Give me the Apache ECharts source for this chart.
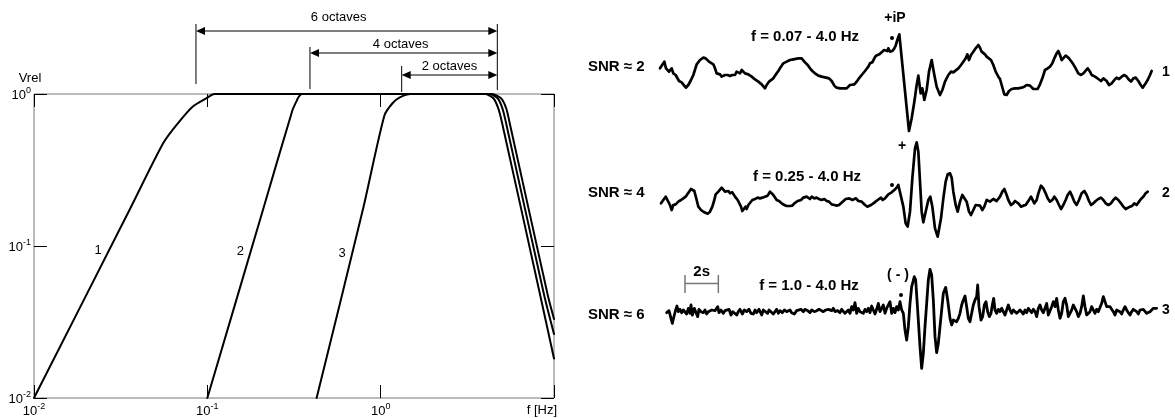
<!DOCTYPE html>
<html><head><meta charset="utf-8">
<script src="https://cdn.jsdelivr.net/npm/echarts@6.0.0/dist/echarts.min.js"></script>
<style>html,body{margin:0;padding:0;background:#fff}#c{width:1175px;height:418px}</style>
</head><body><div id="c"></div>
<script>
// ---------- DATA ----------
// Left panel: relative velocity response vs frequency (Hz), log-log
const curve1 = [[0.01,0.01],[0.0356,0.173],[0.0556,0.474],[0.0676,0.641],[0.0822,0.825],[0.0986,0.937],[0.110,1.0],[4.40,1.0],[4.95,0.937],[5.30,0.805],[5.53,0.657],[9.2,0.0476],[10,0.0331]];
const curve2 = [[0.1,0.01],[0.2095,0.173],[0.31,0.785],[0.326,0.89],[0.335,0.95],[0.35,1.0],[4.23,1.0],[4.73,0.937],[5.04,0.805],[5.27,0.657],[8.77,0.0476],[10,0.0264]];
const curve3 = [[0.427,0.01],[0.789,0.173],[1.05,0.72],[1.17,0.869],[1.29,0.95],[1.49,1.0],[4.0,1.0],[4.47,0.937],[4.77,0.805],[5.0,0.657],[8.32,0.0476],[10,0.0182]];
const curveLabels = ['1','2','3'];
const curveLabelPos = [[0.0234,0.094],[0.155,0.092],[0.60,0.0895]];
const octaveLabels = ['6 octaves','4 octaves','2 octaves'];
const octaveFrom = [0.086, 0.391, 1.322];
const octaveTo = 4.71;

// Right panel: seismograms, time (s) and amplitude (relative units)
const trace1 = [[0.30,2.0],[0.40,2.5],[0.56,4.0],[0.66,2.0],[0.76,2.5],[0.84,1.0],[1.00,2.0],[1.10,0.5],[1.24,0.0],[1.36,-0.5],[1.44,-1.8],[1.60,-2.2],[1.72,-3.0],[1.86,-3.8],[2.00,-3.0],[2.16,-1.5],[2.30,0.0],[2.40,0.5],[2.50,3.2],[2.70,4.5],[2.90,5.2],[3.04,5.0],[3.16,4.7],[3.24,4.0],[3.36,3.8],[3.50,3.2],[3.60,2.0],[3.70,0.5],[3.80,0.0],[3.90,0.2],[4.00,-0.5],[4.20,0.0],[4.36,0.0],[4.50,-0.3],[4.64,0.0],[4.80,0.0],[4.90,1.0],[5.00,1.5],[5.10,0.5],[5.20,1.5],[5.30,1.2],[5.40,0.5],[5.60,0.2],[5.80,-0.5],[6.00,-1.3],[6.20,-2.0],[6.40,-2.8],[6.60,-4.0],[6.70,-3.0],[6.84,-2.0],[6.96,-1.5],[7.10,-1.0],[7.20,-0.5],[7.30,0.5],[7.40,1.2],[7.56,2.5],[7.70,3.5],[7.90,4.0],[8.10,4.5],[8.30,4.7],[8.40,5.0],[8.60,5.0],[8.80,5.0],[8.90,4.5],[9.00,3.8],[9.16,3.0],[9.30,2.0],[9.44,1.2],[9.60,0.5],[9.80,-0.2],[10.00,-0.5],[10.20,-0.7],[10.30,-0.5],[10.44,-1.0],[10.60,-1.8],[10.76,-3.2],[10.90,-3.8],[11.10,-4.0],[11.30,-4.0],[11.50,-4.0],[11.60,-4.2],[11.70,-3.0],[11.80,-3.5],[11.96,-2.8],[12.10,-2.0],[12.24,-1.0],[12.40,0.0],[12.60,1.2],[12.80,2.5],[12.90,3.5],[13.04,3.8],[13.16,5.0],[13.26,5.8],[13.36,5.5],[13.46,6.2],[13.60,6.8],[13.74,7.5],[13.84,7.8],[13.94,7.2],[14.00,8.0],[14.10,7.0],[14.24,7.2],[14.36,8.0],[14.44,8.8],[14.54,10.5],[14.66,12.2],[14.76,12.8],[15.24,-16.8],[15.40,-13.0],[15.56,-8.0],[15.70,-3.0],[15.80,-0.2],[15.94,-5.5],[16.04,-4.0],[16.16,-7.5],[16.30,-4.5],[16.44,1.0],[16.60,4.5],[16.76,0.0],[16.90,-3.5],[17.10,-6.0],[17.24,-4.5],[17.40,-2.0],[17.60,0.0],[17.76,1.0],[17.90,0.8],[18.00,0.2],[18.20,2.0],[18.36,3.0],[18.50,4.0],[18.64,5.0],[18.74,6.2],[18.84,4.5],[18.96,6.0],[19.10,7.0],[19.24,8.0],[19.40,9.0],[19.50,8.2],[19.60,7.0],[19.70,7.5],[19.80,6.2],[19.90,5.5],[20.00,5.8],[20.16,4.5],[20.30,3.0],[20.44,1.0],[20.60,-0.5],[20.70,-1.2],[20.80,-3.0],[20.96,-5.8],[21.10,-6.0],[21.24,-4.8],[21.40,-4.2],[21.60,-4.0],[21.80,-4.0],[22.00,-3.8],[22.16,-3.5],[22.30,-3.0],[22.40,-2.5],[22.50,-3.2],[22.60,-3.5],[22.70,-4.2],[22.80,-4.6],[22.96,-4.2],[23.10,-2.8],[23.24,-1.0],[23.40,1.5],[23.56,2.0],[23.70,2.5],[23.84,3.5],[23.96,5.0],[24.10,6.5],[24.20,7.2],[24.30,6.0],[24.40,4.5],[24.50,5.0],[24.64,5.8],[24.80,5.2],[24.96,4.2],[25.10,3.2],[25.24,2.0],[25.40,0.5],[25.56,0.0],[25.70,0.5],[25.80,1.0],[25.96,2.0],[26.10,1.0],[26.20,0.0],[26.40,-0.5],[26.60,-1.2],[26.76,-1.8],[26.90,-1.0],[27.10,-1.8],[27.24,-3.0],[27.40,-2.5],[27.56,-1.5],[27.70,-0.8],[27.84,-1.2],[28.00,-0.5],[28.16,0.0],[28.30,-0.5],[28.40,-1.2],[28.56,-2.0],[28.70,-1.0],[28.84,-0.8],[29.00,-1.8],[29.14,-3.0],[29.26,-3.8],[29.40,-2.8],[29.56,-1.5],[29.70,0.0],[29.80,1.2]];
const trace2 = [[0.36,-0.5],[0.50,0.5],[0.64,1.5],[0.76,1.0],[0.90,-1.0],[1.00,-2.5],[1.10,-1.0],[1.24,-0.8],[1.40,0.0],[1.56,0.5],[1.70,1.0],[1.84,1.5],[1.94,2.2],[2.04,2.8],[2.16,3.8],[2.24,4.2],[2.36,3.2],[2.50,0.5],[2.60,-1.5],[2.76,-2.5],[2.96,-3.2],[3.16,-3.6],[3.30,-3.0],[3.44,-1.5],[3.56,0.5],[3.64,2.2],[3.80,3.0],[3.90,3.5],[4.00,4.2],[4.10,4.0],[4.20,3.0],[4.30,3.5],[4.40,3.2],[4.50,2.5],[4.64,2.8],[4.80,1.5],[4.96,0.5],[5.04,0.0],[5.16,-1.5],[5.24,-2.8],[5.36,-2.2],[5.44,-1.5],[5.50,-2.2],[5.60,-1.0],[5.70,-0.5],[5.84,0.5],[6.00,0.8],[6.16,1.2],[6.30,1.0],[6.44,1.2],[6.60,1.5],[6.76,1.8],[6.90,3.0],[7.00,2.8],[7.10,2.0],[7.20,1.5],[7.30,0.5],[7.44,0.2],[7.60,-0.5],[7.76,-1.0],[7.90,-1.3],[8.10,-1.3],[8.24,-1.2],[8.36,-0.5],[8.44,0.0],[8.56,0.2],[8.64,0.8],[8.76,0.5],[8.90,1.2],[9.00,0.7],[9.10,1.5],[9.20,1.0],[9.30,0.8],[9.40,1.5],[9.56,1.0],[9.70,1.2],[9.84,0.8],[10.00,0.5],[10.16,0.8],[10.30,0.2],[10.44,0.0],[10.60,-0.8],[10.76,-1.0],[10.90,-1.2],[11.04,-1.0],[11.16,-0.5],[11.26,0.0],[11.36,0.2],[11.44,0.8],[11.56,0.2],[11.66,1.0],[11.76,1.2],[11.84,0.5],[11.96,0.2],[12.06,1.0],[12.20,0.2],[12.30,0.5],[12.40,0.0],[12.50,0.5],[12.60,-1.0],[12.74,-1.5],[12.86,-1.8],[12.96,-1.0],[13.04,-0.5],[13.16,-0.3],[13.24,0.0],[13.36,0.5],[13.44,0.2],[13.56,1.2],[13.66,0.5],[13.80,1.0],[13.90,1.5],[14.00,2.2],[14.10,2.2],[14.20,2.8],[14.36,3.5],[14.50,4.2],[14.60,5.0],[14.70,5.2],[14.90,-1.5],[15.04,-6.5],[15.16,-7.5],[15.30,-3.0],[15.44,7.0],[15.60,16.0],[15.70,17.8],[15.80,15.0],[15.90,6.0],[16.00,-3.0],[16.10,-6.2],[16.24,-3.0],[16.40,0.5],[16.52,1.5],[16.64,-1.5],[16.80,-8.0],[16.96,-10.5],[17.04,-10.0],[17.16,-5.0],[17.30,1.0],[17.44,6.0],[17.56,8.2],[17.70,8.5],[17.80,7.2],[17.90,3.0],[18.04,-1.0],[18.16,-3.0],[18.30,0.0],[18.44,2.0],[18.56,2.5],[18.70,0.0],[18.84,-3.0],[18.96,-4.0],[19.10,-2.5],[19.24,-1.0],[19.36,-0.5],[19.50,-1.2],[19.64,-2.5],[19.76,-1.5],[19.90,0.5],[20.00,1.0],[20.10,0.0],[20.20,0.2],[20.30,0.8],[20.40,1.0],[20.50,0.2],[20.60,0.0],[20.70,1.5],[20.84,3.0],[20.96,3.8],[21.10,2.0],[21.20,0.5],[21.36,-1.0],[21.50,-0.5],[21.60,0.2],[21.70,0.5],[21.80,-0.5],[21.96,-1.5],[22.10,-1.2],[22.24,-1.0],[22.36,-0.5],[22.44,0.5],[22.56,1.5],[22.66,1.0],[22.76,-0.5],[22.90,0.5],[23.00,2.5],[23.16,4.8],[23.30,4.0],[23.44,2.5],[23.56,1.0],[23.70,0.0],[23.84,0.5],[23.96,1.5],[24.10,0.5],[24.24,-1.0],[24.36,-2.2],[24.50,-1.0],[24.64,0.5],[24.76,2.0],[24.90,3.0],[25.04,1.5],[25.16,0.0],[25.30,-1.0],[25.44,0.5],[25.60,2.5],[25.76,3.2],[25.90,2.0],[26.04,0.2],[26.16,-1.0],[26.30,-0.5],[26.44,0.2],[26.60,0.8],[26.76,1.2],[26.90,0.5],[27.04,-0.5],[27.20,-1.0],[27.36,-0.5],[27.50,0.5],[27.64,1.2],[27.80,0.5],[27.96,-0.5],[28.10,-1.5],[28.24,-2.2],[28.36,-2.5],[28.50,-1.5],[28.64,-1.2],[28.76,-0.5],[28.90,-1.0],[29.04,0.0],[29.16,0.8],[29.30,1.5],[29.44,2.5],[29.56,3.0]];
const trace3 = [[0.70,-0.3],[0.84,0.3],[0.96,-2.0],[1.04,-3.5],[1.16,-1.0],[1.24,0.5],[1.32,1.7],[1.40,0.0],[1.50,0.7],[1.60,-0.3],[1.70,0.5],[1.80,0.0],[1.90,-0.7],[2.00,1.0],[2.10,-0.5],[2.16,2.0],[2.24,-1.0],[2.36,1.0],[2.44,0.0],[2.56,-1.5],[2.64,0.7],[2.76,0.0],[2.90,-0.3],[3.00,0.5],[3.10,-0.7],[3.20,0.0],[3.30,-0.5],[3.40,0.5],[3.50,0.0],[3.60,0.3],[3.70,0.7],[3.76,1.5],[3.84,-0.3],[3.96,0.5],[4.10,-0.5],[4.20,0.3],[4.30,-0.3],[4.44,0.7],[4.56,-1.0],[4.66,0.0],[4.76,0.5],[4.90,-1.0],[5.00,0.0],[5.10,0.7],[5.24,-0.7],[5.36,0.5],[5.50,0.0],[5.64,0.7],[5.76,-0.5],[5.90,-0.7],[6.00,0.5],[6.10,-0.3],[6.24,0.7],[6.40,-1.0],[6.50,0.5],[6.60,0.0],[6.76,-0.5],[6.84,0.5],[6.96,0.0],[7.10,-0.7],[7.20,0.0],[7.30,0.7],[7.40,-0.5],[7.50,0.3],[7.64,-0.3],[7.76,0.5],[7.90,0.0],[8.00,-0.5],[8.10,0.5],[8.20,-0.3],[8.36,-0.7],[8.50,0.3],[8.60,-0.3],[8.76,0.7],[8.90,0.0],[9.00,0.7],[9.16,0.3],[9.30,-0.3],[9.40,0.5],[9.56,0.0],[9.70,0.3],[9.84,0.7],[9.96,0.3],[10.10,0.0],[10.24,0.5],[10.40,0.7],[10.50,1.0],[10.60,0.3],[10.70,1.0],[10.80,0.0],[10.96,0.3],[11.10,-0.3],[11.20,0.7],[11.30,0.5],[11.40,-0.5],[11.50,0.0],[11.60,0.5],[11.70,-0.5],[11.80,1.5],[11.90,0.5],[12.00,2.7],[12.10,-0.5],[12.20,1.0],[12.30,0.0],[12.40,0.5],[12.50,-0.5],[12.60,0.7],[12.70,0.0],[12.80,1.0],[12.90,-0.3],[13.00,1.7],[13.10,0.5],[13.20,-0.7],[13.30,0.7],[13.40,2.5],[13.50,0.0],[13.60,0.5],[13.70,2.0],[13.80,-0.5],[13.90,1.0],[14.00,0.5],[14.10,3.0],[14.20,-0.5],[14.30,1.0],[14.40,-0.3],[14.50,1.5],[14.60,0.5],[14.70,3.0],[14.80,0.5],[14.90,-0.5],[15.00,-5.5],[15.10,-8.5],[15.20,-4.5],[15.30,2.5],[15.40,7.5],[15.56,10.5],[15.64,9.5],[15.76,0.5],[15.90,-10.5],[16.00,-17.0],[16.10,-12.5],[16.20,-4.5],[16.30,2.5],[16.40,9.5],[16.50,12.7],[16.60,11.0],[16.70,3.5],[16.80,-7.5],[16.90,-12.3],[17.00,-9.5],[17.10,-4.5],[17.20,0.5],[17.30,5.5],[17.44,7.3],[17.56,3.5],[17.70,-2.0],[17.80,-4.0],[17.90,-2.5],[18.00,-2.3],[18.10,-3.0],[18.20,-2.0],[18.30,-0.5],[18.40,2.0],[18.50,3.5],[18.60,4.7],[18.70,1.5],[18.80,-2.0],[18.90,-3.0],[19.00,-0.5],[19.10,2.0],[19.20,3.5],[19.30,4.5],[19.36,8.0],[19.44,1.5],[19.56,-2.5],[19.66,-1.5],[19.76,2.0],[19.86,3.0],[19.96,0.0],[20.06,-1.5],[20.16,-0.5],[20.24,2.0],[20.32,4.0],[20.40,0.5],[20.50,-0.5],[20.60,0.7],[20.70,0.0],[20.80,1.0],[20.90,0.7],[21.00,-1.0],[21.10,0.5],[21.20,2.0],[21.30,0.5],[21.40,-0.5],[21.50,0.5],[21.60,1.0],[21.70,-0.5],[21.80,-0.3],[21.90,0.5],[22.00,1.0],[22.10,-0.7],[22.20,0.5],[22.30,-0.3],[22.40,1.0],[22.50,0.5],[22.60,-0.3],[22.70,0.7],[22.80,0.0],[22.90,-1.5],[23.00,1.0],[23.10,2.0],[23.20,0.5],[23.30,-0.3],[23.40,1.0],[23.50,2.5],[23.60,-1.0],[23.70,-1.5],[23.80,1.5],[23.90,3.0],[24.00,1.5],[24.10,4.0],[24.20,0.5],[24.30,-2.0],[24.40,-0.5],[24.50,3.0],[24.60,4.0],[24.70,2.0],[24.80,-1.5],[24.90,-1.3],[25.00,0.5],[25.10,2.0],[25.20,1.0],[25.30,0.0],[25.40,-1.5],[25.50,-0.5],[25.60,1.5],[25.70,4.7],[25.80,1.5],[25.90,-1.0],[26.00,-1.3],[26.10,0.0],[26.20,1.5],[26.30,1.0],[26.40,-0.5],[26.50,0.7],[26.60,0.0],[26.70,0.5],[26.80,2.5],[26.90,4.5],[27.00,3.0],[27.10,1.5],[27.20,1.0],[27.30,1.5],[27.40,2.0],[27.50,0.0],[27.60,-1.0],[27.70,0.5],[27.80,1.0],[27.90,0.0],[28.00,-0.7],[28.10,0.5],[28.20,1.5],[28.30,0.5],[28.40,-0.3],[28.50,-1.0],[28.60,0.0],[28.70,0.7],[28.80,1.0],[28.90,0.0],[29.00,-0.7],[29.10,0.5],[29.20,1.0],[29.30,0.7],[29.40,0.3],[29.50,-0.5],[29.60,-0.7],[29.70,0.0],[29.80,0.5],[29.90,1.0],[30.00,0.5],[30.10,1.0]];
const traceBands = ['f = 0.07 - 4.0 Hz','f = 0.25 - 4.0 Hz','f = 1.0 - 4.0 Hz'];
const traceSNR = ['SNR \u2248 2','SNR \u2248 4','SNR \u2248 6'];
const traceIds = ['1','2','3'];
const phaseMarks = ['+iP','+','( - )'];
const scaleBar = [1.8, 3.8]; // 2 s
const scaleBarLabel = '2s';

// ---------- CHART ----------
const FONT = "'Liberation Sans', Arial, Helvetica, sans-serif";
const chart = echarts.init(document.getElementById('c'));
function powLabel(v){ const e = Math.round(Math.log10(v)); if (e >= 1) return ''; return '{b|10}{s|' + e + '}'; }
const rich = {
  b:{fontSize:13, fontFamily:FONT, color:'#000', lineHeight:16, verticalAlign:'bottom'},
  s:{fontSize:9, fontFamily:FONT, color:'#000', lineHeight:9, verticalAlign:'top'}
};
const L = {left:34, top:94, width:520, height:304};
const tr = [{top:25,height:115,min:-19.5,max:15},{top:135,height:110,min:-13,max:20},{top:260,height:115,min:-19,max:15.5}];
const logAxisBase = {type:'log', logBase:10, min:0.01, axisLine:{show:false}, splitLine:{show:false},
  axisTick:{inside:true, length:13, lineStyle:{color:'#000', width:1}}};
const lineStyleCurve = {color:'#000', width:2, join:'round', cap:'round'};
const option = {
  animation:false,
  grid:[
    Object.assign({show:true, borderColor:'#777', borderWidth:1}, L),
    ...tr.map(t => ({left:655, width:510, top:t.top, height:t.height}))
  ],
  xAxis:[
    Object.assign({}, logAxisBase, {gridIndex:0, max:10, position:'bottom',
      axisLabel:{formatter:powLabel, rich:rich, margin:4}}),
    Object.assign({}, logAxisBase, {gridIndex:0, max:10, position:'top', axisLabel:{show:false}}),
    ...tr.map((t,i) => ({type:'value', gridIndex:i+1, min:0, max:30.6, show:false}))
  ],
  yAxis:[
    Object.assign({}, logAxisBase, {gridIndex:0, max:1, position:'left',
      axisLabel:{formatter:powLabel, rich:rich, margin:3},
      name:'Vrel', nameLocation:'end', nameGap:9,
      nameTextStyle:{fontSize:13, fontFamily:FONT, color:'#000', padding:[0,8,0,0]}}),
    Object.assign({}, logAxisBase, {gridIndex:0, max:1, position:'right', axisLabel:{show:false}}),
    ...tr.map((t,i) => ({type:'value', gridIndex:i+1, min:t.min, max:t.max, show:false}))
  ],
  series:[
    ...[curve1, curve2, curve3].map(d => ({type:'line', xAxisIndex:0, yAxisIndex:0, data:d, symbol:'none', clip:false, silent:true,
      smooth:0.25, lineStyle:lineStyleCurve})),
    ...[trace1, trace2, trace3].map((d,i) => ({type:'line', xAxisIndex:i+2, yAxisIndex:i+2, data:d, symbol:'none', clip:false, silent:true,
      lineStyle:{color:'#000', width: i===2 ? 2.8 : 2.7, join:'round', cap:'round'}}))
  ]
};
chart.setOption(option);

// ---------- ANNOTATIONS ----------
const g = [];
function txt(x, y, s, font, align){ g.push({type:'text', x:x, y:y, silent:true, style:{text:s, font:font, fill:'#000',
  align:align||'center', verticalAlign:'middle', textAlign:align||'center', textVerticalAlign:'middle'}}); }
function line(x1,y1,x2,y2,color,w){ g.push({type:'line', silent:true, shape:{x1:x1,y1:y1,x2:x2,y2:y2}, style:{stroke:color||'#000', lineWidth:w||1}}); }
function tri(pts){ g.push({type:'polygon', silent:true, shape:{points:pts}, style:{fill:'#000'}}); }
function dot(x,y){ g.push({type:'circle', silent:true, shape:{cx:x, cy:y, r:2}, style:{fill:'#000'}}); }
const fx = f => chart.convertToPixel({xAxisIndex:0}, f);
const NORM = '13px ' + FONT;
// octave bands
const xr = fx(octaveTo);
const arrowY = [31, 53, 75], vTop = [24, 47, 66], vBot = [84, 89, 92], textY = [17, 44, 66.7];
line(xr, 24, xr, 90);
octaveLabels.forEach((lab, i) => {
  const xl = fx(octaveFrom[i]);
  line(xl, vTop[i], xl, vBot[i]);
  line(xl + 6, arrowY[i], xr - 6, arrowY[i]);
  tri([[xl, arrowY[i]], [xl + 9, arrowY[i] - 4], [xl + 9, arrowY[i] + 4]]);
  tri([[xr, arrowY[i]], [xr - 9, arrowY[i] - 4], [xr - 9, arrowY[i] + 4]]);
  txt((xl + xr) / 2 - (i === 0 ? 8 : (i === 1 ? 3 : 0)), textY[i], lab, NORM);
});
curveLabels.forEach((lab, i) => {
  const p = chart.convertToPixel({xAxisIndex:0, yAxisIndex:0}, curveLabelPos[i]);
  txt(p[0], p[1], lab, NORM);
});
txt(557, 410, 'f [Hz]', NORM, 'right');
// seismogram labels
const BOLD15 = 'bold 15px ' + FONT, BOLD14 = 'bold 14px ' + FONT;
const bandPos = [[805, 37], [807, 177], [809, 286]];
const snrY = [67, 193, 315];
const idY = [72, 193, 310];
const markPos = [[895, 18], [902, 146], [898, 275]];
const dotPos = [[892, 38], [892, 185], [901, 295]];
for (let i = 0; i < 3; i++) {
  txt(bandPos[i][0], bandPos[i][1], traceBands[i], BOLD15);
  txt(588, snrY[i], traceSNR[i], BOLD15, 'left');
  txt(1166, idY[i], traceIds[i], BOLD14);
  txt(markPos[i][0], markPos[i][1], phaseMarks[i], BOLD14);
  dot(dotPos[i][0], dotPos[i][1]);
}
// 2 s scale bar on trace 3 time axis
const sb0 = chart.convertToPixel({xAxisIndex:4}, scaleBar[0]);
const sb1 = chart.convertToPixel({xAxisIndex:4}, scaleBar[1]);
line(sb0, 283.5, sb1, 283.5, '#777', 1.5);
line(sb0, 275, sb0, 293, '#777', 1.5);
line(sb1, 275, sb1, 293, '#777', 1.5);
txt((sb0 + sb1) / 2, 271.5, scaleBarLabel, BOLD15);
chart.setOption({graphic:{elements:g}});
</script>
</body></html>
